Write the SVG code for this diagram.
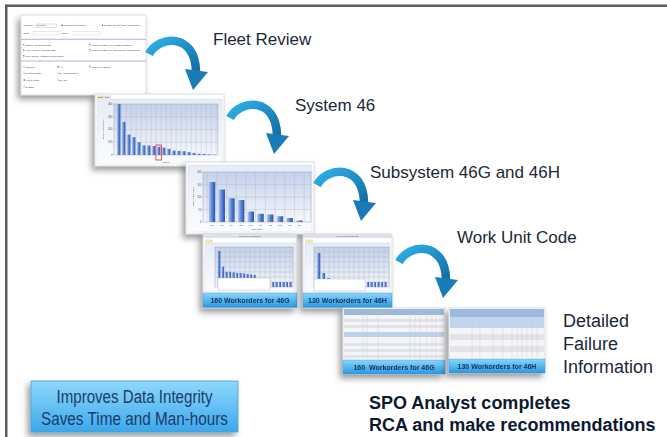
<svg xmlns="http://www.w3.org/2000/svg" width="667" height="437" viewBox="0 0 667 437">
<style>
.hd{font-family:"Liberation Sans",Arial,sans-serif;font-size:17px;fill:#1b2838}
.tiny{font-family:"Liberation Sans",Arial,sans-serif;font-size:2.5px;fill:#444}
.ax{font-family:"Liberation Sans",Arial,sans-serif;font-size:2.6px;fill:#555}
.lbl{font-family:"Liberation Sans",Arial,sans-serif;font-size:7px;font-weight:bold;fill:#12305e;text-anchor:middle}
.panel{fill:#fff;stroke:#c4c8d0;stroke-width:0.6}
.grid{stroke:#a8b0c0;stroke-width:0.35;fill:none}
.bar{fill:url(#barGrad)}
.rad{fill:#3a5a9a}
.rado{fill:#fff;stroke:#888;stroke-width:0.3}
.chk{fill:#fff;stroke:#777;stroke-width:0.3}
.sep{stroke:#a9a9d9;stroke-width:0.9}
.col{stroke:#c4c8d2;stroke-width:0.35}
</style>
<defs>
<filter id="shadow" x="-20%" y="-20%" width="150%" height="160%">
<feDropShadow dx="-3" dy="4" stdDeviation="3" flood-color="#000" flood-opacity="0.4"/>
</filter>
<linearGradient id="plotGrad" x1="0" y1="0" x2="0" y2="1"><stop offset="0" stop-color="#c3d1ea"/><stop offset="1" stop-color="#f6f8fd"/></linearGradient>
<linearGradient id="panelGrad" x1="0" y1="0" x2="0" y2="1"><stop offset="0" stop-color="#e6ecf6"/><stop offset="1" stop-color="#fbfcfe"/></linearGradient>
<linearGradient id="barGrad" x1="0" y1="0" x2="1" y2="0"><stop offset="0" stop-color="#b4cbf2"/><stop offset="0.5" stop-color="#5a85d6"/><stop offset="1" stop-color="#2b52aa"/></linearGradient>
<linearGradient id="labelGrad" x1="0" y1="0" x2="0" y2="1"><stop offset="0" stop-color="#8ad6fa"/><stop offset="1" stop-color="#2a98e0"/></linearGradient>
<linearGradient id="boxGrad" x1="0" y1="0" x2="0" y2="1"><stop offset="0" stop-color="#8fd8fc"/><stop offset="1" stop-color="#3aa8ec"/></linearGradient>
<linearGradient id="arrowGrad" x1="0" y1="0" x2="1" y2="1"><stop offset="0" stop-color="#2fb0e6"/><stop offset="1" stop-color="#126ea6"/></linearGradient>
<g id="arrow">
<path d="M2,0 C12,-19 48,-21 49,17" fill="none" stroke="url(#arrowGrad)" stroke-width="8.5"/>
<polygon points="38,15 61,18 46,36" fill="#1a7bb6"/>
</g>
</defs>
<rect width="667" height="437" fill="#fff"/>
<rect x="5" y="4.5" width="662" height="2.5" fill="#5e5e5e"/>
<rect x="5" y="4.5" width="2.5" height="433" fill="#5e5e5e"/>

<!-- Fleet Review form -->
<g id="fleet-review-screen" filter="url(#shadow)">
<rect class="panel" x="21" y="15" width="125" height="80"/>
<text class="tiny" x="23.3" y="26">Chart By</text>
<rect x="36.7" y="24" width="20" height="3.3" fill="#fff" stroke="#999" stroke-width="0.3"/>
<text class="tiny" x="37.5" y="26.4">System</text>
<circle class="rad" cx="62" cy="25.3" r="0.8"/><text class="tiny" x="63.5" y="26.2">Workorders</text>
<circle class="rado" cx="77.3" cy="25.3" r="0.8"/><text class="tiny" x="78.6" y="26.2">Status</text>
<circle class="rad" cx="102.5" cy="25.3" r="0.8"/><text class="tiny" x="103.8" y="26.2">Sort By Count</text>
<circle class="rado" cx="120.5" cy="25.3" r="0.8"/><text class="tiny" x="121.8" y="26.2">Sort Alphabetical</text>
<text class="tiny" x="23.3" y="34">WUC</text>
<rect x="33" y="31.5" width="27" height="3.5" fill="#fff" stroke="#bbb" stroke-width="0.3"/>
<text class="tiny" x="61.7" y="34">Task #</text>
<rect x="72" y="31.5" width="28" height="3.5" fill="#fff" stroke="#bbb" stroke-width="0.3"/>
<line class="sep" x1="21" y1="39.3" x2="146" y2="39.3"/>
<rect class="chk" x="23.3" y="44" width="1.5" height="1.5"/><text class="tiny" x="25.5" y="45.6">Display Scrubbed Data</text>
<rect class="chk" x="23.3" y="49.7" width="1.5" height="1.5"/><text class="tiny" x="25.5" y="51.3">Apply Failure Analysis Filter</text>
<rect class="chk" x="23.3" y="55.7" width="1.5" height="1.5"/><text class="tiny" x="25.5" y="57.3">Only display Validated Workorders</text>
<rect class="chk" x="89.3" y="44" width="1.5" height="1.5"/><text class="tiny" x="91.5" y="45.6">Include System 44 (Lighting System)</text>
<rect class="chk" x="89.3" y="49.7" width="1.5" height="1.5"/><text class="tiny" x="91.5" y="51.3">Include System 91 (Emergency Equipment)</text>
<line class="sep" x1="21" y1="61" x2="146" y2="61"/>
<circle class="rado" cx="24.2" cy="66.7" r="0.8"/><text class="tiny" x="25.6" y="67.6">Last Day</text>
<circle class="rado" cx="24.2" cy="73.3" r="0.8"/><text class="tiny" x="25.6" y="74.2">Month to Date</text>
<circle class="rad" cx="24.2" cy="80" r="0.8"/><text class="tiny" x="25.6" y="80.9">Year to Date</text>
<circle class="rado" cx="24.2" cy="86.7" r="0.8"/><text class="tiny" x="25.6" y="87.6">Custom</text>
<circle class="rad" cx="58.2" cy="66.7" r="0.8"/><text class="tiny" x="59.6" y="67.6">All</text>
<circle class="rado" cx="58.2" cy="73.3" r="0.8"/><text class="tiny" x="59.6" y="74.2">By Configuration</text>
<circle class="rado" cx="58.2" cy="80" r="0.8"/><text class="tiny" x="59.6" y="80.9">By Tail</text>
<rect class="chk" x="89.3" y="65.9" width="1.5" height="1.5"/><text class="tiny" x="91.5" y="67.5">Include by Status</text>
</g>

<!-- System 46 chart -->
<g id="system-46-screen" filter="url(#shadow)">
<rect class="panel" x="95" y="94" width="129" height="72"/>
<rect x="97" y="95.3" width="7" height="3.2" fill="#f1e3a6"/><rect x="104" y="95.3" width="7" height="3.2" fill="#e4e6ea"/>
<text class="tiny" x="97.8" y="97.7" style="font-size:2px">Chart</text><text class="tiny" x="105" y="97.7" style="font-size:2px">Data</text>
<rect x="97" y="99" width="125" height="65" fill="url(#panelGrad)" stroke="#c8d0dc" stroke-width="0.3"/>
<rect x="114" y="104" width="104" height="51" fill="url(#plotGrad)" stroke="#8a94a8" stroke-width="0.4"/>
<path class="grid" d="M121.2 104V155M126.2 104V155M131.2 104V155M136.2 104V155M141.2 104V155M146.2 104V155M151.2 104V155M156.2 104V155M161.2 104V155M166.2 104V155M171.2 104V155M176.2 104V155M181.2 104V155M186.2 104V155M191.2 104V155M196.2 104V155M201.2 104V155M206.2 104V155M211.2 104V155M216.2 104V155M114 116.75H218M114 129.5H218M114 142.25H218"/>
<rect class="bar" x="117" y="104" width="3.4" height="51"/>
<rect class="bar" x="122" y="121.85" width="3.4" height="33.15"/>
<rect class="bar" x="127" y="134.6" width="3.4" height="20.4"/>
<rect class="bar" x="132" y="137.15" width="3.4" height="17.85"/>
<rect class="bar" x="137" y="142.25" width="3.4" height="12.75"/>
<rect class="bar" x="142" y="145.44" width="3.4" height="9.56"/>
<rect class="bar" x="147" y="145.44" width="3.4" height="9.56"/>
<rect class="bar" x="152" y="146.07" width="3.4" height="8.93"/>
<rect class="bar" x="157" y="146.71" width="3.4" height="8.29"/>
<rect class="bar" x="162" y="147.6" width="3.4" height="7.4"/>
<rect class="bar" x="167" y="148.88" width="3.4" height="6.12"/>
<rect class="bar" x="172" y="150.54" width="3.4" height="4.46"/>
<rect class="bar" x="177" y="150.92" width="3.4" height="4.08"/>
<rect class="bar" x="182" y="151.17" width="3.4" height="3.83"/>
<rect class="bar" x="187" y="152.19" width="3.4" height="2.81"/>
<rect class="bar" x="192" y="152.96" width="3.4" height="2.04"/>
<rect class="bar" x="197" y="153.72" width="3.4" height="1.28"/>
<rect class="bar" x="202" y="153.98" width="3.4" height="1.02"/>
<rect class="bar" x="207" y="154.36" width="3.4" height="0.64"/>
<rect class="bar" x="212" y="154.62" width="3.4" height="0.38"/>
<text class="ax" x="112.5" y="105" text-anchor="end">400</text>
<text class="ax" x="112.5" y="117.7" text-anchor="end">300</text>
<text class="ax" x="112.5" y="130.4" text-anchor="end">200</text>
<text class="ax" x="112.5" y="143.2" text-anchor="end">100</text>
<text class="ax" x="112.5" y="156" text-anchor="end">0</text>
<text class="ax" x="103.5" y="129.5" text-anchor="middle" transform="rotate(-90 103.5 129.5)" style="font-size:2px">Number of Workorders</text>
<text class="ax" x="166" y="162.5" text-anchor="middle" style="font-size:2.2px">System</text>
<rect x="155.9" y="145" width="5.6" height="15" fill="none" stroke="#e02a2a" stroke-width="0.8"/>
</g>

<!-- Subsystem chart -->
<g id="subsystem-screen" filter="url(#shadow)">
<rect class="panel" x="186" y="162" width="128" height="72"/>
<rect x="188" y="165" width="124" height="67" fill="url(#panelGrad)" stroke="#c8d0dc" stroke-width="0.3"/>
<rect x="203" y="172" width="108" height="50" fill="url(#plotGrad)" stroke="#8a94a8" stroke-width="0.4"/>
<path class="grid" d="M207.15 172V222M216.85 172V222M226.55 172V222M236.25 172V222M245.95 172V222M255.65 172V222M265.35 172V222M275.05 172V222M284.75 172V222M294.45 172V222M304.15 172V222M203 184.5H311M203 197H311M203 209.5H311"/>
<rect class="bar" x="208.75" y="182" width="6.5" height="40"/>
<rect class="bar" x="218.45" y="189.5" width="6.5" height="32.5"/>
<rect class="bar" x="228.15" y="198.25" width="6.5" height="23.75"/>
<rect class="bar" x="237.85" y="200" width="6.5" height="22"/>
<rect class="bar" x="247.55" y="211.5" width="6.5" height="10.5"/>
<rect class="bar" x="257.25" y="213.75" width="6.5" height="8.25"/>
<rect class="bar" x="266.95" y="214.5" width="6.5" height="7.5"/>
<rect class="bar" x="276.65" y="216.25" width="6.5" height="5.75"/>
<rect class="bar" x="286.35" y="218" width="6.5" height="4"/>
<rect class="bar" x="296.05" y="220.5" width="6.5" height="1.5"/>
<text class="ax" x="201.5" y="173" text-anchor="end">200</text>
<text class="ax" x="201.5" y="185.5" text-anchor="end">150</text>
<text class="ax" x="201.5" y="198" text-anchor="end">100</text>
<text class="ax" x="201.5" y="210.5" text-anchor="end">50</text>
<text class="ax" x="201.5" y="223" text-anchor="end">0</text>
<text class="ax" x="193.5" y="197" text-anchor="middle" transform="rotate(-90 193.5 197)" style="font-size:2px">Number of Workorders</text>
<g class="ax" text-anchor="middle" style="font-size:2.2px">
<text x="212" y="226">46G</text><text x="221.7" y="226">46H</text><text x="231.4" y="226">46A</text><text x="241.1" y="226">46E</text><text x="250.8" y="226">46J</text><text x="260.5" y="226">46L</text><text x="270.2" y="226">46B</text><text x="279.9" y="226">46D</text><text x="289.6" y="226">46C</text><text x="299.3" y="226">46F</text>
</g>
<text class="ax" x="257" y="230" text-anchor="middle" style="font-size:2.2px">Subsystem</text>
</g>

<!-- WUC 46G -->
<g id="wuc-46g-screen" filter="url(#shadow)">
<rect class="panel" x="203" y="234" width="94" height="74"/>
<rect x="203" y="234" width="94" height="4" fill="#dde2ea"/>
<text class="ax" x="250" y="237" text-anchor="middle" style="font-size:2px">C-5M Fleet Analysis Tool</text>
<rect x="205" y="239.5" width="8" height="3" fill="#f1e3a6"/>
<rect x="205" y="243" width="90" height="49" fill="url(#panelGrad)" stroke="#b8c0cc" stroke-width="0.3"/>
<rect x="215" y="247" width="78" height="40" fill="url(#plotGrad)" stroke="#8a94a8" stroke-width="0.4"/>
<path class="grid" d="M220 247V287M225 247V287M230 247V287M235 247V287M240 247V287M245 247V287M250 247V287M255 247V287M260 247V287M265 247V287M270 247V287M275 247V287M280 247V287M285 247V287M290 247V287M215 252H293M215 257H293M215 262H293M215 267H293M215 272H293M215 277H293M215 282H293"/>
<rect class="bar" x="217.5" y="251" width="2.8" height="36"/>
<rect class="bar" x="221.5" y="266.7" width="2.6" height="20.3"/>
<rect class="bar" x="225" y="271.7" width="2.6" height="15.3"/>
<rect class="bar" x="228.5" y="271.7" width="2.6" height="15.3"/>
<rect class="bar" x="232" y="272.3" width="2.6" height="14.7"/>
<rect class="bar" x="235.5" y="273" width="2.6" height="14"/>
<rect class="bar" x="239" y="273" width="2.6" height="14"/>
<rect class="bar" x="242.5" y="273.5" width="2.6" height="13.5"/>
<rect class="bar" x="246" y="274" width="2.6" height="13"/>
<rect class="bar" x="249.5" y="274.5" width="2.6" height="12.5"/>
<rect class="bar" x="253" y="275" width="2.6" height="12"/>
<rect class="bar" x="271.5" y="282" width="2.6" height="5"/>
<rect class="bar" x="275" y="282" width="2.6" height="5"/>
<rect class="bar" x="278.5" y="282" width="2.6" height="5"/>
<rect class="bar" x="282" y="282" width="2.6" height="5"/>
<rect class="bar" x="285.5" y="282" width="2.6" height="5"/>
<rect class="bar" x="289" y="282" width="2.6" height="5"/>
<rect x="218" y="278" width="52" height="12" fill="#fff" stroke="#b0b0b0" stroke-width="0.4"/>
<rect x="203" y="293" width="94" height="14.5" fill="url(#labelGrad)" stroke="#3a8fcc" stroke-width="0.4"/>
<text class="lbl" x="250" y="303">160 Workorders for 46G</text>
</g>

<!-- WUC 46H -->
<g id="wuc-46h-screen" filter="url(#shadow)">
<rect class="panel" x="303" y="234" width="89" height="74"/>
<rect x="303" y="234" width="89" height="4" fill="#dde2ea"/>
<text class="ax" x="347.5" y="237" text-anchor="middle" style="font-size:2px">C-5M Fleet Analysis Tool</text>
<rect x="305" y="239.5" width="8" height="3" fill="#f1e3a6"/>
<rect x="305" y="243" width="85" height="49" fill="url(#panelGrad)" stroke="#b8c0cc" stroke-width="0.3"/>
<rect x="314" y="247" width="75" height="40" fill="url(#plotGrad)" stroke="#8a94a8" stroke-width="0.4"/>
<path class="grid" d="M319 247V287M324 247V287M329 247V287M334 247V287M339 247V287M344 247V287M349 247V287M354 247V287M359 247V287M364 247V287M369 247V287M374 247V287M379 247V287M384 247V287M314 252H389M314 257H389M314 262H389M314 267H389M314 272H389M314 277H389M314 282H389"/>
<rect class="bar" x="317" y="253" width="3.3" height="34"/>
<rect class="bar" x="321.8" y="273" width="3.3" height="14"/>
<rect class="bar" x="326.5" y="278" width="3" height="9"/>
<rect class="bar" x="366.5" y="282" width="2.6" height="5"/>
<rect class="bar" x="370" y="282" width="2.6" height="5"/>
<rect class="bar" x="373.5" y="282" width="2.6" height="5"/>
<rect class="bar" x="377" y="282" width="2.6" height="5"/>
<rect class="bar" x="380.5" y="282" width="2.6" height="5"/>
<rect class="bar" x="384" y="282" width="2.6" height="5"/>
<rect x="314" y="279" width="51" height="12" fill="#fff" stroke="#b0b0b0" stroke-width="0.4"/>
<rect x="303" y="293" width="89" height="14.5" fill="url(#labelGrad)" stroke="#3a8fcc" stroke-width="0.4"/>
<text class="lbl" x="347.5" y="303">130 Workorders for 46H</text>
</g>

<!-- Detail 46G table -->
<g id="detail-46g-screen" filter="url(#shadow)">
<rect class="panel" x="343" y="308" width="102" height="66"/>
<rect x="344" y="309" width="100" height="50" fill="#f5f5f7"/>
<rect x="344" y="309" width="100" height="6" fill="#9cb9dd"/>
<rect x="344" y="319" width="100" height="3" fill="#e2e4e9"/>
<rect x="344" y="325" width="100" height="3" fill="#e2e4e9"/>
<rect x="344" y="332" width="100" height="5" fill="#bdd0ec"/>
<rect x="344" y="343" width="100" height="3" fill="#e2e4e9"/>
<rect x="344" y="349" width="100" height="3" fill="#e2e4e9"/>
<rect x="344" y="355" width="100" height="3" fill="#e2e4e9"/>
<path class="col" d="M363 309V359M367 309V359M378 309V359M410 309V359M415 309V359M420 309V359M427 309V359M432 309V359M436 309V359"/>
<rect x="343" y="360" width="102" height="14" fill="url(#labelGrad)" stroke="#3a8fcc" stroke-width="0.4"/>
<text class="lbl" x="394" y="370" xml:space="preserve">160  Workorders for 46G</text>
</g>

<!-- Detail 46H table -->
<g id="detail-46h-screen" filter="url(#shadow)">
<rect class="panel" x="449" y="308" width="96" height="65"/>
<rect x="450" y="309" width="94" height="49" fill="#f5f5f7"/>
<rect x="450" y="309" width="94" height="8" fill="#9cb9dd"/>
<rect x="450" y="317" width="94" height="11" fill="#c2d5ee"/>
<rect x="450" y="334" width="94" height="6" fill="#e2e4e9"/>
<rect x="450" y="346" width="94" height="6" fill="#e2e4e9"/>
<path class="col" d="M472 309V358M480 309V358M493 309V358M503 309V358M512 309V358M517 309V358M522 309V358M527 309V358M532 309V358M537 309V358"/>
<rect x="449" y="359" width="96" height="14" fill="url(#labelGrad)" stroke="#3a8fcc" stroke-width="0.4"/>
<text class="lbl" x="497" y="369">130 Workorders for 46H</text>
</g>

<g id="connectors">
<use href="#arrow" transform="translate(147,54)"/>
<use href="#arrow" transform="translate(228,118)"/>
<use href="#arrow" transform="translate(315,185)"/>
<use href="#arrow" transform="translate(397,262)"/>
</g>

<g id="step-labels">
<text class="hd" x="213" y="45">Fleet Review</text>
<text class="hd" x="295" y="111">System 46</text>
<text class="hd" x="370" y="178">Subsystem 46G and 46H</text>
<text class="hd" x="457" y="243">Work Unit Code</text>
<text class="hd" x="563" y="327" style="font-size:18px">Detailed</text>
<text class="hd" x="563" y="350" style="font-size:18px">Failure</text>
<text class="hd" x="563" y="373" style="font-size:18px">Information</text>
</g>

<g id="benefit-box">
<rect x="31" y="381" width="207" height="51" fill="url(#boxGrad)" stroke="#4b9fd4" stroke-width="0.8" filter="url(#shadow)"/>
<text class="hd" x="134.5" y="403" text-anchor="middle" textLength="156" lengthAdjust="spacingAndGlyphs" style="fill:#1f3a66;font-size:17.5px">Improves Data Integrity</text>
<text class="hd" x="134.5" y="425" text-anchor="middle" textLength="187" lengthAdjust="spacingAndGlyphs" style="fill:#1f3a66;font-size:17.5px">Saves Time and Man-hours</text>
</g>

<g id="conclusion">
<text class="hd" x="369" y="409" style="font-weight:bold;font-size:18px;fill:#0c1a30">SPO Analyst completes</text>
<text class="hd" x="369" y="431" style="font-weight:bold;font-size:18px;fill:#0c1a30">RCA and make recommendations</text>
</g>
</svg>
